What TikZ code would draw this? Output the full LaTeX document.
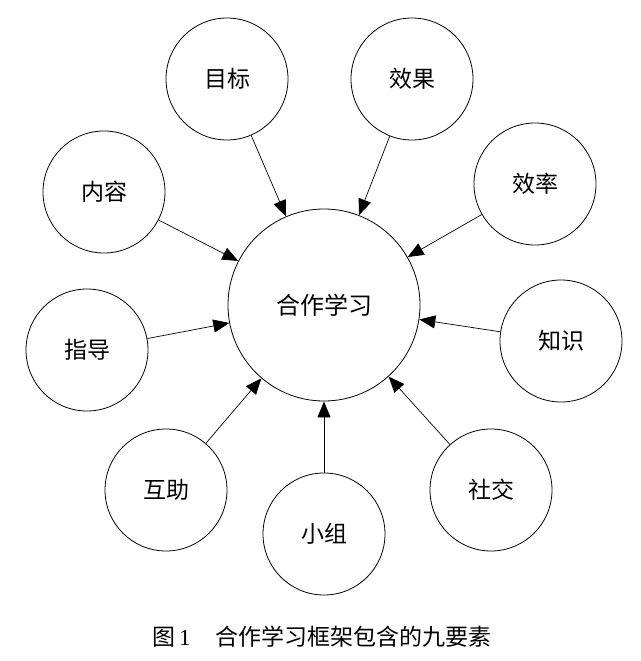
\documentclass[tikz,border=0pt]{standalone}
\usepackage{fontspec}
\setmainfont{Liberation Serif}
\newfontfamily\cjk{Noto Sans CJK SC}
\usetikzlibrary{arrows.meta}
\begin{document}
\begin{tikzpicture}[x=1pt,y=-1pt,
  elem/.style={circle,draw,line width=0.8pt,inner sep=0pt,minimum size=122pt,font=\cjk\fontsize{23}{27}\selectfont},
  core/.style={circle,draw,line width=0.8pt,inner sep=0pt,minimum size=192pt,font=\cjk\fontsize{24}{28}\selectfont},
  link/.style={line width=0.7pt,-{Triangle[length=16pt,width=13pt]}}]
\useasboundingbox (0,0) rectangle (640,661);
\node[core] (c) at (324,305) {合作学习};
\node[elem] (mubiao) at (227,79) {目标};
\node[elem] (xiaoguo) at (412,79) {效果};
\node[elem] (xiaolv) at (535,184) {效率};
\node[elem] (neirong) at (104,192) {内容};
\node[elem] (zhidao) at (87,350) {指导};
\node[elem] (zhishi) at (561,341) {知识};
\node[elem] (huzhu) at (166,490) {互助};
\node[elem] (xiaozu) at (324,534) {小组};
\node[elem] (shejiao) at (491,490) {社交};
\foreach \n in {mubiao,xiaoguo,xiaolv,neirong,zhidao,zhishi,huzhu,xiaozu,shejiao}
  \draw[link] (\n) -- (c);
\node[font=\fontsize{23}{27}\selectfont] (cap) at (322,637) {{\cjk 图}\,1\hspace{1.1em}{\cjk 合作学习框架包含的九要素}};
\end{tikzpicture}
\end{document}
